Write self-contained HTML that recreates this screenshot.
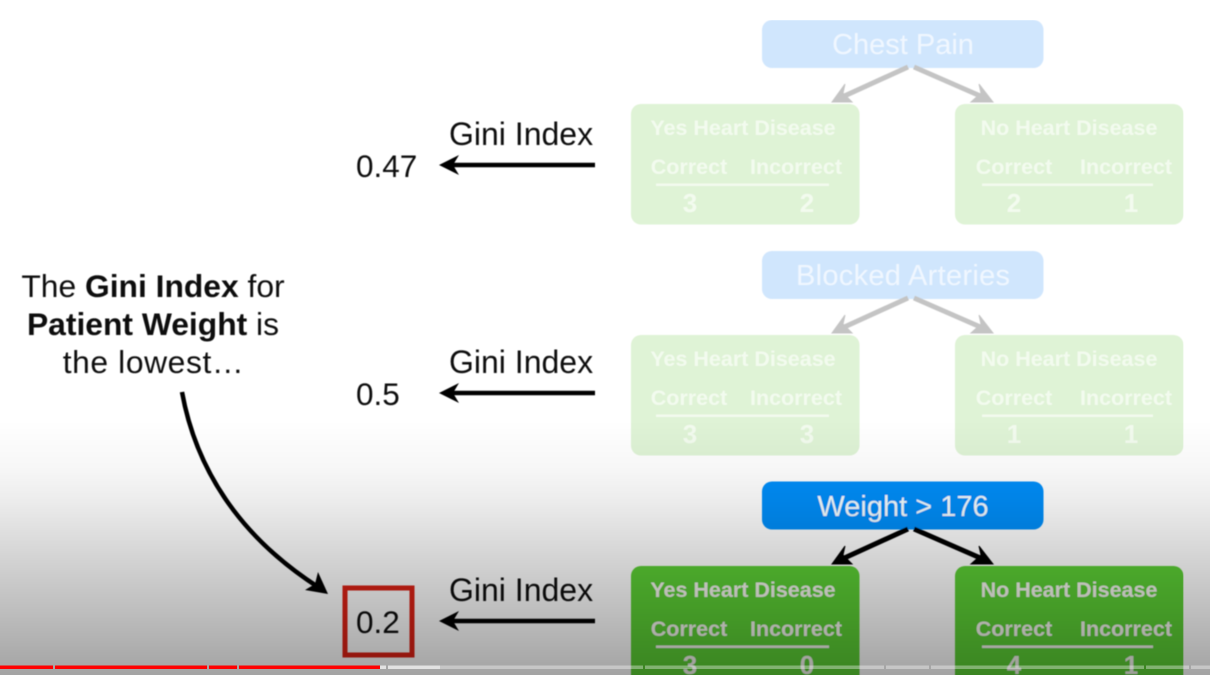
<!DOCTYPE html>
<html lang="en">
<head>
<meta charset="utf-8">
<title>Gini Index comparison</title>
<style>
html,body{margin:0;padding:0;background:#fff;width:1210px;height:675px;overflow:hidden}
svg{display:block}
text{font-family:"Liberation Sans",Arial,sans-serif}
.t{font-size:21.5px;font-weight:bold;text-anchor:middle}
.h{font-size:21.5px;font-weight:bold;text-anchor:middle}
.n{font-size:26px;font-weight:bold;text-anchor:middle}
.root{font-size:29px;text-anchor:middle}
.big{font-size:32px;fill:#111}
.val{font-size:31.5px;fill:#111}
.cap{font-size:31.8px;fill:#111;text-anchor:middle}
</style>
</head>
<body>
<svg width="1210" height="675" viewBox="0 0 1210 675" xmlns="http://www.w3.org/2000/svg">
<defs>
<linearGradient id="shade" x1="0" y1="420" x2="0" y2="675" gradientUnits="userSpaceOnUse">
<stop offset="0" stop-color="#000" stop-opacity="0"/>
<stop offset="0.2" stop-color="#000" stop-opacity="0.035"/>
<stop offset="0.32" stop-color="#000" stop-opacity="0.075"/>
<stop offset="0.55" stop-color="#000" stop-opacity="0.175"/>
<stop offset="0.71" stop-color="#000" stop-opacity="0.24"/>
<stop offset="1" stop-color="#000" stop-opacity="0.36"/>
</linearGradient>
<filter id="soft" x="0" y="0" width="100%" height="100%"><feGaussianBlur stdDeviation="0.45"/></filter>
</defs>
<rect width="1210" height="675" fill="#fff"/>
<g filter="url(#soft)">

<!-- Tree 1 -->
<g>
<rect x="762" y="20" width="281.5" height="48" rx="10" fill="#d0e6fd"/>
<text x="903" y="54" class="root" fill="#f0f7ff">Chest Pain</text>
<g fill="#c4c4c4" stroke="#c4c4c4">
<path d="M908 67L840 98" stroke-width="5" fill="none"/><path d="M832 102L845 84L843 93L852 102Z" stroke-width="1"/>
<path d="M914 67L985 98" stroke-width="5" fill="none"/><path d="M993 102L979 84L981 93L971 102Z" stroke-width="1"/>
</g>
<rect x="631" y="104" width="228.5" height="120.5" rx="10" fill="#dff3d6"/>
<rect x="955" y="104" width="228.5" height="120.5" rx="10" fill="#dff3d6"/>
<g fill="#f3fbef">
<text x="743" y="135" class="t">Yes Heart Disease</text>
<text x="689" y="174" class="h">Correct</text>
<text x="796" y="174" class="h">Incorrect</text>
<rect x="656" y="183.5" width="173" height="2.5"/>
<text x="690" y="212" class="n">3</text>
<text x="807" y="212" class="n">2</text>
<text x="1069" y="135" class="t">No Heart Disease</text>
<text x="1014" y="174" class="h">Correct</text>
<text x="1126" y="174" class="h">Incorrect</text>
<rect x="982" y="183.5" width="171" height="2.5"/>
<text x="1014" y="212" class="n">2</text>
<text x="1131" y="212" class="n">1</text>
</g>
</g>

<!-- Tree 2 -->
<g transform="translate(0,231)">
<rect x="762" y="20" width="281.5" height="48" rx="10" fill="#d0e6fd"/>
<text x="903" y="54" class="root" fill="#f0f7ff" textLength="214" lengthAdjust="spacing">Blocked Arteries</text>
<g fill="#c4c4c4" stroke="#c4c4c4">
<path d="M908 67L840 98" stroke-width="5" fill="none"/><path d="M832 102L845 84L843 93L852 102Z" stroke-width="1"/>
<path d="M914 67L985 98" stroke-width="5" fill="none"/><path d="M993 102L979 84L981 93L971 102Z" stroke-width="1"/>
</g>
<rect x="631" y="104" width="228.5" height="120.5" rx="10" fill="#dff3d6"/>
<rect x="955" y="104" width="228.5" height="120.5" rx="10" fill="#dff3d6"/>
<g fill="#f3fbef">
<text x="743" y="135" class="t">Yes Heart Disease</text>
<text x="689" y="174" class="h">Correct</text>
<text x="796" y="174" class="h">Incorrect</text>
<rect x="656" y="183.5" width="173" height="2.5"/>
<text x="690" y="212" class="n">3</text>
<text x="807" y="212" class="n">3</text>
<text x="1069" y="135" class="t">No Heart Disease</text>
<text x="1014" y="174" class="h">Correct</text>
<text x="1126" y="174" class="h">Incorrect</text>
<rect x="982" y="183.5" width="171" height="2.5"/>
<text x="1014" y="212" class="n">1</text>
<text x="1131" y="212" class="n">1</text>
</g>
</g>

<!-- Tree 3 -->
<g transform="translate(0,462)">
<rect x="762" y="19.5" width="281.5" height="48" rx="10" fill="#008ef9"/>
<text x="903" y="54" class="root" fill="#f4ffff">Weight &gt; 176</text>
<g fill="#000" stroke="#000">
<path d="M908 67L840 98" stroke-width="5" fill="none"/><path d="M832 102L845 84L843 93L852 102Z" stroke-width="1"/>
<path d="M914 67L985 98" stroke-width="5" fill="none"/><path d="M993 102L979 84L981 93L971 102Z" stroke-width="1"/>
</g>
<rect x="631" y="104" width="228.5" height="120.5" rx="10" fill="#5bcf35"/>
<rect x="955" y="104" width="228.5" height="120.5" rx="10" fill="#5bcf35"/>
<g fill="#f6f6ee">
<text x="743" y="135" class="t">Yes Heart Disease</text>
<text x="689" y="174" class="h">Correct</text>
<text x="796" y="174" class="h">Incorrect</text>
<rect x="656" y="183.5" width="173" height="2.5"/>
<text x="690" y="212" class="n">3</text>
<text x="807" y="212" class="n">0</text>
<text x="1069" y="135" class="t">No Heart Disease</text>
<text x="1014" y="174" class="h">Correct</text>
<text x="1126" y="174" class="h">Incorrect</text>
<rect x="982" y="183.5" width="171" height="2.5"/>
<text x="1014" y="212" class="n">4</text>
<text x="1131" y="212" class="n">1</text>
</g>
</g>

<!-- Gini rows -->
<g>
<text x="449" y="145" class="big">Gini Index</text>
<text x="356" y="177" class="val">0.47</text>
<path d="M595 165H450" stroke="#000" stroke-width="4.5"/>
<path d="M439 165L459 155L453 165L459 175Z" fill="#000"/>
</g>
<g>
<text x="449" y="373" class="big">Gini Index</text>
<text x="356" y="405" class="val">0.5</text>
<path d="M595 393H450" stroke="#000" stroke-width="4.5"/>
<path d="M439 393L459 383L453 393L459 403Z" fill="#000"/>
</g>
<g>
<text x="449" y="601" class="big">Gini Index</text>
<text x="356" y="633" class="val">0.2</text>
<path d="M595 621H450" stroke="#000" stroke-width="4.5"/>
<path d="M439 621L459 611L453 621L459 631Z" fill="#000"/>
<rect x="345" y="588" width="67" height="67" fill="none" stroke="#dd2416" stroke-width="5"/>
</g>

<!-- Caption -->
<g>
<text x="153" y="297" class="cap">The <tspan font-weight="bold">Gini Index</tspan> for</text>
<text x="153" y="335" class="cap"><tspan font-weight="bold">Patient Weight</tspan> is</text>
<text x="153.5" y="373" class="cap" letter-spacing="0.6">the lowest…</text>
</g>
<path d="M182 392C197 475 245 540 318 587" fill="none" stroke="#000" stroke-width="4.5"/>
<path d="M328 594L305 590L315 584L318 572Z" fill="#000"/>
</g>

<rect width="1210" height="675" fill="url(#shade)"/>

<!-- Player progress bar -->
<g>
<g fill="#fff" fill-opacity="0.36">
<rect x="440" y="665.5" width="203" height="3.5"/>
<rect x="645" y="665.5" width="239" height="3.5"/>
<rect x="886" y="665.5" width="43" height="3.5"/>
<rect x="931" y="665.5" width="213" height="3.5"/>
<rect x="1146" y="665.5" width="43" height="3.5"/>
<rect x="1191" y="665.5" width="19" height="3.5"/>
</g>
<g fill="#e2e2e2">
<rect x="380" y="665.5" width="6" height="3.5"/>
<rect x="388" y="665.5" width="52" height="3.5"/>
</g>
<g fill="#ff0000">
<rect x="0" y="665.5" width="53" height="3.5"/>
<rect x="55" y="665.5" width="152" height="3.5"/>
<rect x="209" y="665.5" width="28" height="3.5"/>
<rect x="239" y="665.5" width="141" height="3.5"/>
</g>
</g>
</svg>
</body>
</html>
